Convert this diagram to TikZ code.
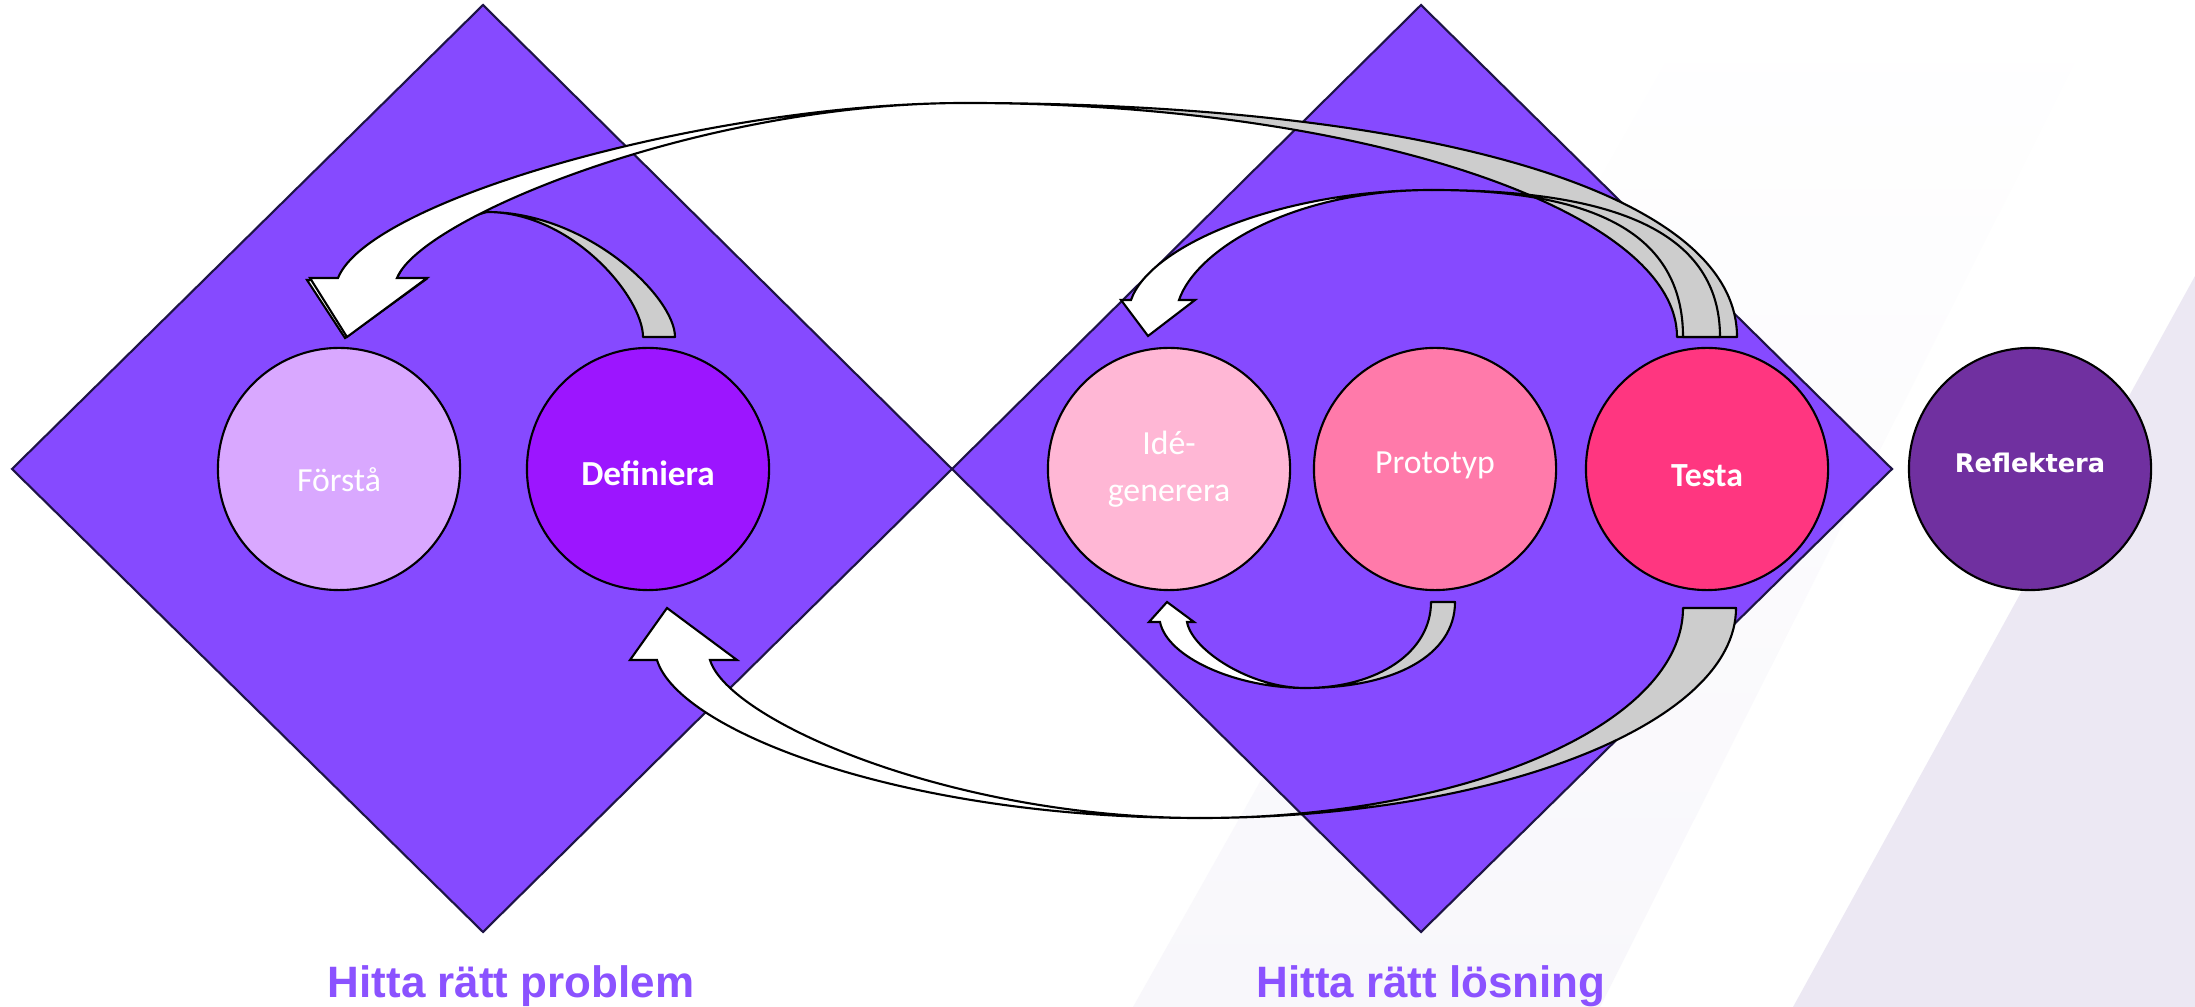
\documentclass[tikz,border=0pt]{standalone}
\usepackage{fontspec}
\setmainfont{Carlito}
\newfontfamily\reflFont{DejaVu Sans}
\newfontfamily\titleFont{Liberation Sans}
\definecolor{diamondViolet}{RGB}{134,74,255}
\definecolor{diamondEdge}{RGB}{30,20,70}
\definecolor{forstaCol}{RGB}{217,168,255}
\definecolor{definieraCol}{RGB}{156,21,255}
\definecolor{ideCol}{RGB}{255,183,213}
\definecolor{prototypCol}{RGB}{255,122,170}
\definecolor{testaCol}{RGB}{255,54,128}
\definecolor{reflekteraCol}{RGB}{112,48,160}
\definecolor{titleViolet}{RGB}{139,82,255}
\definecolor{backGray}{RGB}{205,205,205}
\definecolor{bandLavender}{RGB}{236,232,243}
\definecolor{bandFaint}{RGB}{248,247,251}
\tikzset{phase/.style={circle, draw=black, line width=0.6pt, minimum size=2.42cm,
        inner sep=0pt, text=white, align=center, font=\fontsize{9.6}{11.4}\selectfont},
    diamondBox/.style={fill=diamondViolet, draw=diamondEdge, line width=0.6pt},
    arrowBack/.style={fill=backGray, draw=black, line width=0.6pt, line join=round},
    arrowFront/.style={fill=white, draw=black, line width=0.6pt},
    phaseTitle/.style={anchor=base, text=titleViolet,
        font=\titleFont\bfseries\fontsize{12.5}{15}\selectfont},
    }
\begin{document}
\begin{tikzpicture}[x=0.01cm, y=0.01cm]
	\useasboundingbox (0,0) rectangle (2195,-1007);
	\fill[white] (0,0) rectangle (2195,-1007);
	\shade[top color=white, bottom color=bandFaint] (1133,-1007) -- (1701,0) -- (2106,0) -- (1600,-1007) -- cycle;
	\fill[bandLavender] (1793,-1007) -- (2195,-276) -- (2195,-1007) -- cycle;
	% the two diamonds
	\draw[diamondBox] (483,-5) -- (952,-469) -- (483,-932) -- (12,-469) -- cycle;
	\draw[diamondBox] (1421,-5) -- (1892,-469) -- (1421,-932) -- (952,-469) -- cycle;
	% phases
	\node[phase, fill=forstaCol] (forsta) at (339,-469) {\raisebox{-3pt}[\height][\depth]{Förstå}};
	\node[phase, fill=definieraCol, font=\bfseries\fontsize{10}{11.4}\selectfont] (definiera) at (648,-469) {\raisebox{-1.2pt}[\height][\depth]{Definiera}};
	\node[phase, fill=ideCol] (ideGen) at (1169,-469) {Idé-\\[2pt]generera};
	\node[phase, fill=prototypCol] (prototyp) at (1435,-469) {\raisebox{1pt}[\height][\depth]{Prototyp}};
	\node[phase, fill=testaCol, font=\bfseries\fontsize{9.6}{11.4}\selectfont] (testa) at (1707,-469) {\raisebox{-2pt}[\height][\depth]{Testa}};
	\node[phase, fill=reflekteraCol, font=\reflFont\bfseries\fontsize{7.3}{9}\selectfont] (reflektera) at (2030,-469) {\raisebox{1.8pt}[\height][\depth]{Reflektera}};
	\node[phaseTitle] (problemTitle) at (511,-997) {Hitta rätt problem};
	\node[phaseTitle] (losningTitle) at (1431,-997) {Hitta rätt lösning};
	% Definiera -> Förstå
	\coordinate (a2TailO) at (675,-337);
	\coordinate (a2TailI) at (643,-337);
	\coordinate (a2Apex) at (487,-212);
	\draw[arrowBack] (a2TailO) .. controls (675,-297) and (587,-212) .. (a2Apex) .. controls (572,-212) and (643,-297) .. (a2TailI) -- cycle;
	\draw[arrowFront] (a2Apex) .. controls (450,-222) and (360,-245) .. (340,-280) -- (307,-280) -- (345,-338) -- (425,-280) -- (396,-280) .. controls (415,-240) and (450,-222) .. (a2Apex) -- cycle;
	% Testa -> Förstå
	\coordinate (a1TailO) at (1737,-337);
	\coordinate (a1TailI) at (1677,-337);
	\coordinate (a1Apex) at (965,-103);
	\draw[arrowBack] (a1TailO) .. controls (1737,-190) and (1420,-103) .. (a1Apex) .. controls (1360,-103) and (1677,-210) .. (a1TailI) -- cycle;
	\draw[arrowFront] (a1Apex) .. controls (715,-103) and (370,-198) .. (338,-278) -- (310,-278) -- (347,-337) -- (427,-278) -- (397,-278) .. controls (421,-218) and (700,-103) .. (a1Apex) -- cycle;
	% Testa -> Idé-generera
	\coordinate (a3TailO) at (1720,-337);
	\coordinate (a3TailI) at (1683,-337);
	\coordinate (a3Apex) at (1432,-190);
	\draw[arrowBack] (a3TailO) .. controls (1720,-234) and (1619,-190) .. (a3Apex) .. controls (1595,-190) and (1683,-234) .. (a3TailI) -- cycle;
	\draw[arrowFront] (a3Apex) .. controls (1282,-190) and (1150,-245) .. (1131,-300) -- (1121,-300) -- (1148,-336) -- (1195,-300) -- (1179,-300) .. controls (1196,-250) and (1292,-190) .. (a3Apex) -- cycle;
	% Prototyp -> Idé-generera
	\coordinate (a5TailO) at (1455,-602);
	\coordinate (a5TailI) at (1431,-602);
	\coordinate (a5Low) at (1305,-688);
	\draw[arrowBack] (a5TailO) .. controls (1455,-655) and (1395,-688) .. (a5Low) .. controls (1378,-688) and (1431,-652) .. (a5TailI) -- cycle;
	\draw[arrowFront] (a5Low) .. controls (1235,-688) and (1167,-657) .. (1160,-622) -- (1149,-622) -- (1167,-602) -- (1194,-622) -- (1187,-622) .. controls (1192,-650) and (1250,-688) .. (a5Low) -- cycle;
	% Testa -> Definiera
	\coordinate (a4TailO) at (1736,-608);
	\coordinate (a4TailI) at (1683,-608);
	\coordinate (a4Low) at (1200,-818);
	\draw[arrowBack] (a4TailO) .. controls (1736,-724) and (1495,-818) .. (a4Low) .. controls (1466,-818) and (1683,-724) .. (a4TailI) -- cycle;
	\draw[arrowFront] (a4Low) .. controls (900,-818) and (678,-730) .. (657,-660) -- (630,-660) -- (667,-608) -- (737,-660) -- (710,-660) .. controls (728,-720) and (950,-818) .. (a4Low) -- cycle;
\end{tikzpicture}
\end{document}
